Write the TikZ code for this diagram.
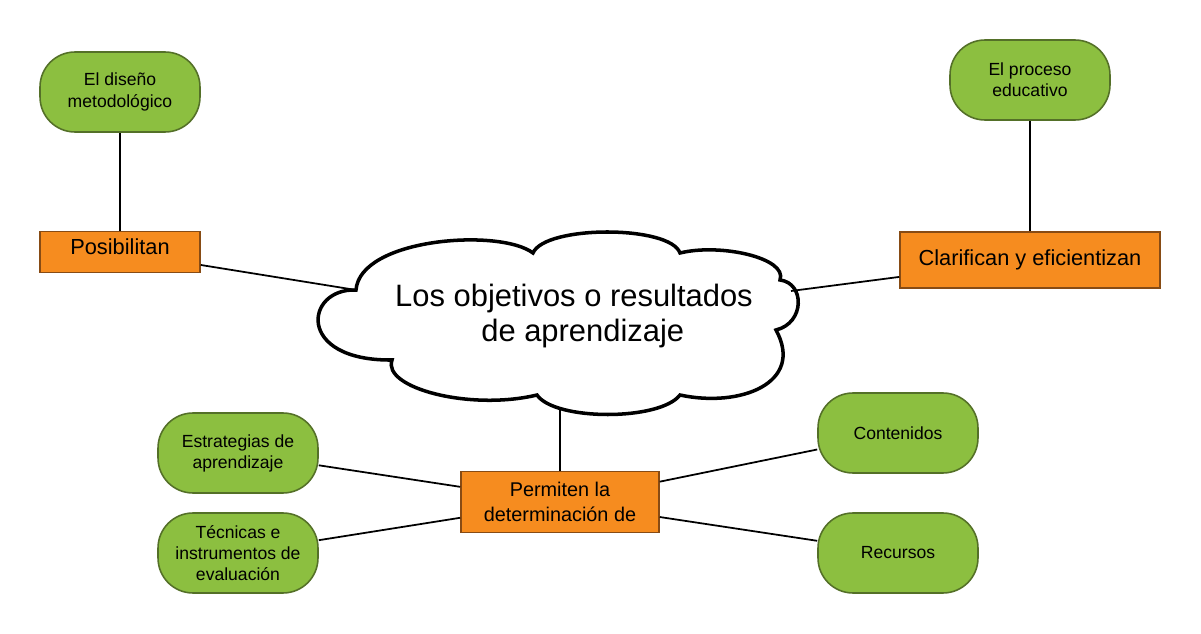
\documentclass[tikz,border=0pt]{standalone}
\usepackage{fontspec}
\setmainfont{Liberation Sans}
\definecolor{leaf}{RGB}{140,191,64}
\definecolor{leafline}{RGB}{84,112,40}
\definecolor{tang}{RGB}{246,140,31}
\definecolor{tangline}{RGB}{135,75,20}

\begin{document}
\begin{tikzpicture}[x=0.02cm, y=0.02cm,
    idea/.style={draw=leafline, line width=0.9pt, fill=leaf, rounded corners=0.7cm,
        minimum width=3.2cm, minimum height=1.6cm, align=center, inner sep=2pt,
        font=\fontsize{10}{12}\selectfont},
    verb/.style={draw=tangline, line width=0.9pt, fill=tang, align=center, inner sep=2pt,
        font=\fontsize{12.4}{14}\selectfont},
    link/.style={line width=1pt}]
                \useasboundingbox (0,0) rectangle (1201,633);

                % the cloud
                \coordinate (N1) at (356,343);
                \coordinate (N2) at (392,273);
                \coordinate (N3) at (537,238);
                \coordinate (N4) at (680,238);
                \coordinate (N5) at (776,303);
                \coordinate (N6) at (780,353);
                \coordinate (N7) at (680,380);
                \coordinate (N8) at (533,380);
                \draw[line width=2pt, fill=white] (N1)
                    .. controls (305,345) and (295,272) .. (N2)
                    .. controls (382,245) and (470,222) .. (N3)
                    .. controls (555,212) and (660,212) .. (N4)
                    .. controls (740,225) and (805,250) .. (N5)
                    .. controls (805,310) and (805,350) .. (N6)
                    .. controls (788,375) and (720,390) .. (N7)
                    .. controls (670,408) and (545,408) .. (N8)
                    .. controls (500,405) and (360,395) .. cycle;
                \node[align=center, font=\fontsize{17.6}{19.5}\selectfont] (goal) at (574,317)
                    {Los objetivos o resultados\\ \hspace*{10pt}de aprendizaje};
                \coordinate (rjoin) at (791,342);
                \coordinate (bjoin) at (560,225);

                % top left
                \node[idea] (design) at (120,541) {El diseño\\metodológico};
                \node[verb, minimum width=3.2cm, minimum height=0.82cm, text depth=6pt] (enable) at (120,381) {Posibilitan};
                \draw[link] (design) -- (enable);
                \draw[link] (enable) -- (N1);

                % top right
                \node[idea] (process) at (1030,553) {El proceso\\educativo};
                \node[verb, minimum width=5.2cm, minimum height=1.12cm] (clarify) at (1030,373) {Clarifican y eficientizan};
                \draw[link] (process) -- (clarify);
                \draw[link] (clarify) -- (rjoin);

                % bottom
                \node[verb, minimum width=3.96cm, minimum height=1.22cm, font=\fontsize{11.3}{13.8}\selectfont] (allow) at (560,131)
                    {Permiten la\\determinación de};
                \draw[link] (bjoin) -- (allow);

                \node[idea] (strat) at (238,180) {Estrategias de\\aprendizaje};
                \node[idea] (tools) at (238,80) {Técnicas e\\instrumentos de\\evaluación};
                \node[idea] (content) at (898,200) {Contenidos};
                \node[idea] (means) at (898,80) {Recursos};
                \foreach \n in {strat, tools, content, means}
                    \draw[link] (\n) -- (allow);
            \end{tikzpicture}
\end{document}
